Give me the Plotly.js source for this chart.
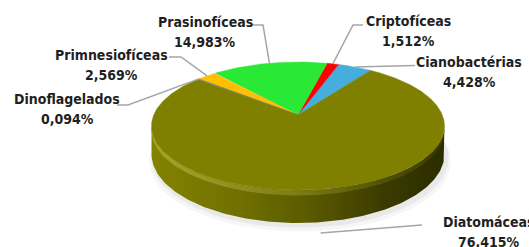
<!DOCTYPE html>
<html><head><meta charset="utf-8">
<script src="https://cdn.plot.ly/plotly-3.0.1.min.js"></script>
<style>html,body{margin:0;padding:0;background:#fff}#chart{width:529px;height:247px}</style>
</head><body><div id="chart"></div>
<script>
// ---- data ----
const categories = ['Cianobactérias','Criptofíceas','Prasinofíceas','Primnesiofíceas','Dinoflagelados','Diatomáceas'];
const values = [4.428, 1.512, 14.983, 2.569, 0.094, 76.415];
const valueLabels = ['4,428%','1,512%','14,983%','2,569%','0,094%','76,415%'];
const colors = ['#45aedd','#ff0000','#2ae836','#ffbf00','#4472c4','#808000'];

// ---- layout geometry (pixels) ----
const CX=298, CY=115, RX=144.3, RY=62.1, K=0.172, H=27.3, START=55;
// label centres and leader-line routing [elbow, textEnd]
const labelPos = [[469,72],[408,31],[205,32],[111,64.5],[67,108.5],[489,232]];
const LINE_GAP = 20;
const leaderRoute = [
  [null,[415,65.5]],
  [[353,25],[363,25]],
  [[263,25],[251,25]],
  [[181,57],[169,57]],
  [[128,105],[117,105]],
  [null,[422,225]]
];
const leaderDrop = [0,0,0,0,0,H+9];

function proj(thDeg, drop){
  const t=thDeg*Math.PI/180; const s=1/(1+K*Math.sin(t));
  return [CX+RX*Math.cos(t)*s, CY - RY*Math.sin(t)*s + (drop||0)*s];
}
function arc(a0,a1,drop,step){
  step=step||0.5; const xs=[],ys=[];
  const n=Math.max(1,Math.ceil(Math.abs(a1-a0)/step));
  for(let i=0;i<=n;i++){const p=proj(a0+(a1-a0)*i/n,drop);xs.push(p[0]);ys.push(p[1]);}
  return [xs,ys];
}
const total = values.reduce((a,b)=>a+b,0);
const traces=[];

// silhouette angles
let thL=180,thR=360,minx=1e9,maxx=-1e9;
for(let a=150;a<=220;a+=0.25){const p=proj(a,0);if(p[0]<minx){minx=p[0];thL=a;}}
for(let a=320;a<=390;a+=0.25){const p=proj(a,0);if(p[0]>maxx){maxx=p[0];thR=a;}}

// shadow
[[H+7,'rgba(0,0,0,0.035)',1.03],[H+4,'rgba(0,0,0,0.05)',1.015]].forEach(([d,c,sc])=>{
  const [xs,ys]=arc(0,360,d,2);
  traces.push({x:xs.map(x=>CX+(x-CX)*sc+2),y:ys,mode:'lines',fill:'toself',fillcolor:c,line:{width:0},hoverinfo:'skip'});
});

// side wall (front, belongs to the big slice)
{
  const top=arc(thL,thR,0,1), bot=arc(thR,thL,H,1);
  traces.push({x:top[0].concat(bot[0]),y:top[1].concat(bot[1]),mode:'lines',fill:'toself',line:{width:0},
    fillgradient:{type:'horizontal',colorscale:[[0,'#838300'],[0.3,'#707000'],[0.55,'#595900'],[0.8,'#3a3a00'],[1,'#2c2c00']]},hoverinfo:'skip'});
  // rim highlight
  const t2=arc(thL,thR,0.3,1), b2=arc(thR,thL,4.5,1);
  traces.push({x:t2[0].concat(b2[0]),y:t2[1].concat(b2[1]),mode:'lines',fill:'toself',line:{width:0},
    fillgradient:{type:'horizontal',colorscale:[[0,'rgba(175,175,60,0.75)'],[0.5,'rgba(150,150,40,0.55)'],[1,'rgba(90,90,0,0.3)']]},hoverinfo:'skip'});
}

// top face slices
let a=START; const mids=[];
values.forEach((v,i)=>{
  const span=v/total*360; const a0=a,a1=a+span; a=a1;
  mids.push((a0+a1)/2);
  const [xs,ys]=arc(a0,a1,0,0.5);
  traces.push({x:[CX].concat(xs,[CX]),y:[CY].concat(ys,[CY]),mode:'lines',fill:'toself',fillcolor:colors[i],
    line:{width:0.5,color:colors[i]},name:categories[i],hoverinfo:'name'});
});

// leader lines
categories.forEach((c,i)=>{
  const p=proj(mids[i],leaderDrop[i]);
  const [elbow,end]=leaderRoute[i];
  const xs=[p[0]],ys=[p[1]];
  if(elbow){xs.push(elbow[0]);ys.push(elbow[1]);}
  xs.push(end[0]);ys.push(end[1]);
  traces.push({x:xs,y:ys,mode:'lines',line:{color:'#a6a6a6',width:1.5},hoverinfo:'skip'});
});

const font={family:'"Liberation Sans Narrow","DejaVu Sans Condensed","Arial Narrow",sans-serif',size:14,color:'#1f1f1f',weight:700};
const annotations=[];
categories.forEach((c,i)=>{
  annotations.push({xref:'x',yref:'y',x:labelPos[i][0],y:labelPos[i][1]-LINE_GAP/2,xanchor:'center',yanchor:'middle',
    text:'<b>'+c+'</b>',showarrow:false,font:font});
  annotations.push({xref:'x',yref:'y',x:labelPos[i][0],y:labelPos[i][1]+LINE_GAP/2,xanchor:'center',yanchor:'middle',
    text:'<b>'+valueLabels[i]+'</b>',showarrow:false,font:font});
});

Plotly.newPlot('chart',traces,{
  width:529,height:247,margin:{l:0,r:0,t:0,b:0},showlegend:false,
  paper_bgcolor:'#fff',plot_bgcolor:'#fff',
  xaxis:{range:[0,529],visible:false,fixedrange:true},
  yaxis:{range:[247,0],visible:false,fixedrange:true},
  annotations:annotations
},{staticPlot:true});
</script></body></html>
